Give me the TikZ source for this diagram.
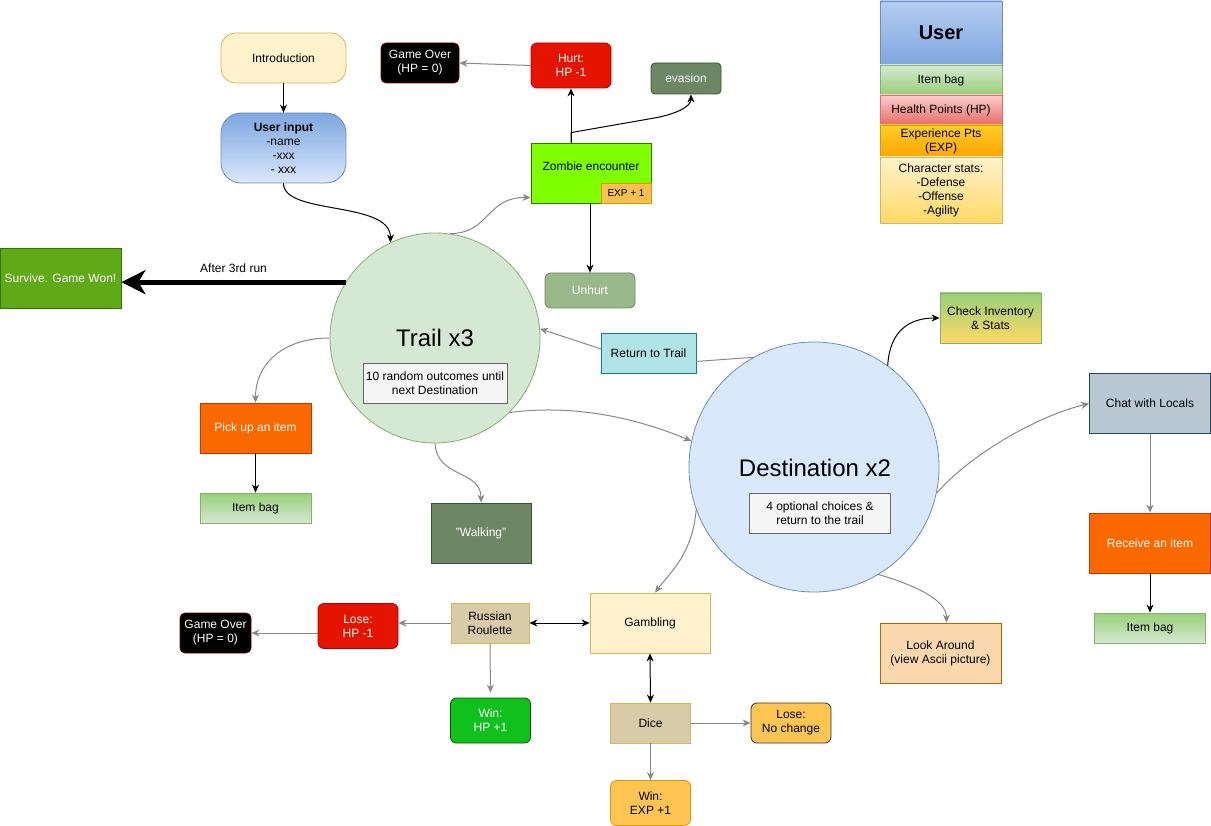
\documentclass[tikz,border=0pt]{standalone}
\usepackage{fontspec}
\setmainfont{Liberation Sans}
\usetikzlibrary{arrows.meta,calc,shapes.geometric}
\definecolor{cGray}{HTML}{888888}
\definecolor{yelF}{HTML}{FFF2CC}\definecolor{yelS}{HTML}{D6B656}
\definecolor{bluF}{HTML}{DAE8FC}\definecolor{bluS}{HTML}{6C8EBF}\definecolor{bluD}{HTML}{7EA6E0}
\definecolor{grnF}{HTML}{D5E8D4}\definecolor{grnS}{HTML}{82B366}\definecolor{grnD}{HTML}{97D077}
\definecolor{redF}{HTML}{E51400}\definecolor{redS}{HTML}{B20000}
\definecolor{goS}{HTML}{6F0000}
\definecolor{oliF}{HTML}{6D8764}\definecolor{oliS}{HTML}{3A5431}
\definecolor{unhF}{HTML}{9AB98A}
\definecolor{limeF}{HTML}{80FF00}\definecolor{limeS}{HTML}{2D7600}
\definecolor{expF}{HTML}{FDBF4F}\definecolor{expS}{HTML}{D79B00}
\definecolor{survF}{HTML}{60A917}
\definecolor{orgF}{HTML}{FA6800}\definecolor{orgS}{HTML}{C73500}
\definecolor{tealF}{HTML}{B0E3E6}\definecolor{tealS}{HTML}{0E8088}
\definecolor{slateF}{HTML}{BAC8D3}\definecolor{slateS}{HTML}{23445D}
\definecolor{peachF}{HTML}{FAD7AC}\definecolor{peachS}{HTML}{B46504}
\definecolor{tanF}{HTML}{D7CBA8}
\definecolor{winF}{HTML}{10C11E}\definecolor{winS}{HTML}{005700}
\definecolor{goldF}{HTML}{FFC552}
\definecolor{boxF}{HTML}{F5F5F5}\definecolor{boxS}{HTML}{666666}
\definecolor{hpT}{HTML}{F8CECC}\definecolor{hpB}{HTML}{EA6B66}
\definecolor{exT}{HTML}{FFCD28}\definecolor{exB}{HTML}{FFA500}
\definecolor{csB}{HTML}{FFD966}
\tikzset{
  nd/.style 2 args={minimum width=#1, minimum height=#2, inner sep=1pt, align=center, line width=0.8pt},
  arrowhead/.style={-{Stealth[length=8pt,width=7pt,inset=2.5pt]}},
  blk/.style={draw=black, line width=1pt, arrowhead},
  gry/.style={draw=cGray, line width=1pt, -{Stealth[length=8pt,width=7pt,inset=2.5pt,fill=cGray]}},
  gryline/.style={draw=cGray, line width=1pt},
  dbl/.style={draw=black, line width=1pt, {Stealth[length=8pt,width=7pt,inset=2.5pt]}-{Stealth[length=8pt,width=7pt,inset=2.5pt]}},
  wtxt/.style={text=white},
  bigtxt/.style={font=\fontsize{24}{28}\selectfont},
}
\begin{document}
\begin{tikzpicture}[x=1pt,y=-1pt, every node/.style={font=\fontsize{12}{14}\selectfont}]
\useasboundingbox (0,0) rectangle (1211,826);

% top-left
\node[nd={125}{50}, rounded corners=15pt, fill=yelF, draw=yelS] (intro) at (283.5,58) {Introduction};
\node[nd={125}{70}, rounded corners=20pt, top color=bluD, bottom color=bluF, draw=bluS] (ui) at (283.5,148) {\textbf{User input}\\-name\\-xxx\\- xxx};

% zombie area
\node[nd={78}{40}, rounded corners=5pt, fill=black, draw=goS, wtxt] (go1) at (420,63) {Game Over\\(HP = 0)};
\node[nd={80}{45}, rounded corners=6pt, fill=redF, draw=redS, wtxt] (hurt) at (571,65.5) {Hurt:\\HP -1};
\node[nd={70}{31}, rounded corners=4pt, fill=oliF, draw=oliS, wtxt] (evasion) at (686,78.5) {evasion};
\node[nd={120}{60}, fill=limeF, draw=limeS] (zombie) at (591,173) {Zombie encounter\\\mbox{}};
\node[nd={50}{20}, fill=expF, draw=expS, font=\fontsize{10}{12}\selectfont] (exp) at (626,193) {EXP + 1};
\node[nd={90}{35}, rounded corners=5pt, fill=unhF, draw=oliF, wtxt] (unhurt) at (590,290.5) {Unhurt};

% survive
\node[nd={121}{60}, fill=survF, draw=limeS, wtxt] (survive) at (60.5,278) {Survive. Game Won!};

% trail
\node[circle, minimum size=210pt, fill=grnF, draw=grnS, line width=0.8pt] (trail) at (435,338) {};
\node[bigtxt] (trailt) at (435,338) {Trail x3};
\node[nd={144}{40}, fill=boxF, draw=boxS] (trailbox) at (435,383) {10 random outcomes until\\next Destination};

\node[nd={111}{50}, fill=orgF, draw=orgS, wtxt] (pick) at (255.5,428) {Pick up an item};
\node[nd={111}{30}, top color=grnD, bottom color=grnF, draw=grnS] (bag1) at (255.5,508) {Item bag};
\node[nd={100}{60}, fill=oliF, draw=oliS, wtxt] (walk) at (481,533) {"Walking"};

% destination
\node[nd={95}{40}, fill=tealF, draw=tealS] (ret) at (648.5,353) {Return to Trail};
\node[circle, minimum size=250pt, fill=bluF, draw=bluS, line width=0.8pt] (dest) at (814,467) {};
\node[bigtxt] (destt) at (815,468) {Destination x2};
\node[nd={141}{40}, fill=boxF, draw=boxS] (destbox) at (820,513) {4 optional choices \&\\return to the trail};
\node[nd={101}{50}, top color=grnD, bottom color=csB, draw=grnS] (check) at (990.5,318) {Check Inventory\\\& Stats};
\node[nd={121}{60}, fill=slateF, draw=slateS] (chat) at (1150,403.5) {Chat with Locals};
\node[nd={121}{60}, fill=orgF, draw=orgS, wtxt] (recv) at (1150,543) {Receive an item};
\node[nd={111}{30}, top color=grnD, bottom color=grnF, draw=grnS] (bag2) at (1150,628) {Item bag};
\node[nd={121}{60}, fill=peachF, draw=peachS] (look) at (940.5,653) {Look Around\\(view Ascii picture)};

% gambling
\node[nd={120}{60}, fill=yelF, draw=yelS] (gamb) at (650,623) {Gambling};
\node[nd={78}{40}, fill=tanF, draw=yelS] (rr) at (490,623) {Russian\\Roulette};
\node[nd={80}{45}, rounded corners=6pt, fill=redF, draw=redS, wtxt] (lose1) at (358,626) {Lose:\\HP -1};
\node[nd={71}{40}, rounded corners=5pt, fill=black, draw=goS, wtxt] (go2) at (215.5,633) {Game Over\\(HP = 0)};
\node[nd={80}{45}, rounded corners=6pt, fill=winF, draw=winS, wtxt] (winhp) at (490.5,720.5) {Win:\\HP +1};
\node[nd={80}{40}, fill=tanF, draw=yelS] (dice) at (650.5,723) {Dice};
\node[nd={80}{40}, rounded corners=6pt, fill=goldF, draw=black!80] (losenc) at (791,723) {Lose:\\No change};
\node[nd={80}{45}, rounded corners=6pt, fill=goldF, draw=expS] (winexp) at (650.5,803) {Win:\\EXP +1};

% legend
\node[nd={122}{64}, top color=bluF!60!bluD, bottom color=bluD, draw=bluS, font=\fontsize{20}{24}\selectfont\bfseries] (lgUser) at (941,33) {User};
\node[nd={122}{30}, top color=grnF, bottom color=grnD, draw=grnS] (lgBag) at (941,80) {Item bag};
\node[nd={122}{30}, top color=hpT, bottom color=hpB, draw=hpB] (lgHP) at (941,110) {Health Points (HP)};
\node[nd={122}{32}, top color=exT, bottom color=exB, draw=expS] (lgExp) at (941,141) {Experience Pts\\(EXP)};
\node[nd={122}{66}, top color=yelF, bottom color=csB, draw=yelS] (lgStats) at (941,190) {Character stats:\\-Defense\\-Offense\\-Agility};

% connectors
\draw[blk] (intro) -- (ui);
\draw[blk] (ui.south) .. controls +(0,32) and +(0,-42) .. (trail.115);
\draw[gry] (trail.82) .. controls +(40,0) and +(-45,0) .. (zombie.202);
\draw[blk] (zombie.north -| hurt.south) -- (hurt.south);
\draw[blk] (zombie.north -| hurt.south) -- ++(0,-10) -- ++(80,-14) .. controls +(25,-4) and +(0,12) .. ($(evasion.south)+(5,0)$);
\draw[gry] (hurt.west) -- (go1.east);
\draw[blk] (zombie.south -| unhurt.north) -- (unhurt.north);
\draw[line width=5pt, -{Stealth[length=24pt,width=24pt,inset=7pt]}] (trail.148) -- (trail.148 -| survive.east) node[midway, above=4pt, font=\fontsize{12}{14}\selectfont] {After 3rd run};
\draw[gry] (trail.west) .. controls +(-45,0) and +(0,-40) .. (pick.north);
\draw[blk] (pick) -- (bag1);
\draw[gry] (trail.south) .. controls +(2,35) and +(0,-33) .. (walk.north);
\draw[gry] (trail.-45) .. controls +(60,-8) and +(-60,-25) .. (dest.168);
\draw[gryline] (dest.119) -- (ret.-10);
\draw[gry] (ret.175) -- (trail.5);
\draw[blk] (dest.54) .. controls +(2,-35) and +(-30,0) .. (check.west);
\draw[gry] (dest.-12) .. controls +(35,-40) and +(-50,12) .. (chat.west);
\draw[gry] (chat) -- (recv);
\draw[blk] (recv) -- (bag2);
\draw[gry] (dest.-59) .. controls +(40,12) and +(0,-22) .. ($(look.north)+(6,0)$);
\draw[gry] (dest.200) .. controls +(-4,45) and +(15,-20) .. ($(gamb.north)+(5,0)$);
\draw[dbl] (rr.east) -- (gamb.west);
\draw[dbl] (gamb.south) -- (dice.north);
\draw[gry] (rr.west) -- (rr.west -| lose1.east);
\draw[gry] (go2.east -| lose1.west) -- (go2.east);
\draw[gry, shorten >=5pt] (rr.south) -- (winhp.north);
\draw[gry] (dice.east) -- (losenc.west);
\draw[gry] (dice.south) -- (winexp.north);
\end{tikzpicture}
\end{document}
